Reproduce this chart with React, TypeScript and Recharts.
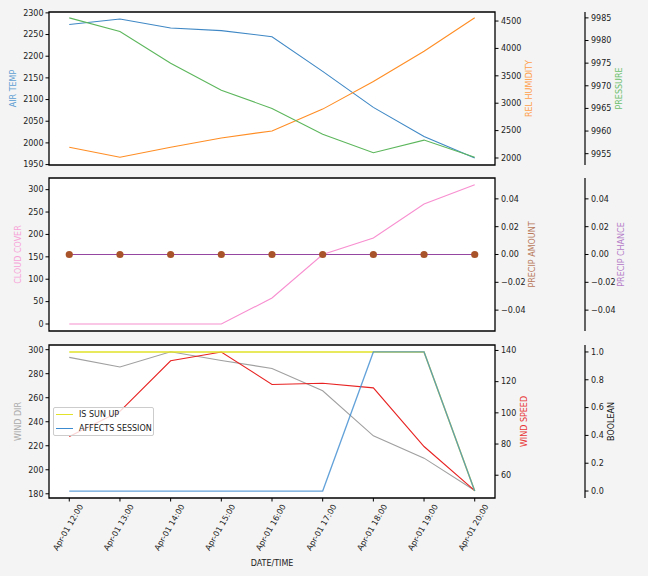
import React from 'react';
import { LineChart, Line, XAxis, YAxis, CartesianGrid, ReferenceArea, Legend } from 'recharts';

const times = ['Apr-01 12:00', 'Apr-01 13:00', 'Apr-01 14:00', 'Apr-01 15:00', 'Apr-01 16:00', 'Apr-01 17:00', 'Apr-01 18:00', 'Apr-01 19:00', 'Apr-01 20:00'];
const airTemp = [2273, 2286, 2265, 2259, 2245, 2165, 2082, 2015, 1965];
const relHumidity = [2196, 2013, 2196, 2366, 2494, 2892, 3397, 3947, 4559];
const pressure = [9985, 9982, 9975, 9969, 9965, 9959.3, 9955.2, 9958, 9954.2];
const cloudCover = [0, 0, 0, 0, 58, 155, 192, 268, 311];
const precipAmount = [0, 0, 0, 0, 0, 0, 0, 0, 0];
const precipChance = [0, 0, 0, 0, 0, 0, 0, 0, 0];
const windDir = [293.6, 285.6, 298.3, 291, 284.4, 265.8, 228.3, 209.7, 182.8];
const windSpeed = [84.8, 101, 133.4, 139, 118.2, 119, 116, 78.4, 50.1];
const isSunUp = [1, 1, 1, 1, 1, 1, 1, 1, 0];
const affectsSession = [0, 0, 0, 0, 0, 0, 1, 1, 0];

const airTempTicks = [1950, 2000, 2050, 2100, 2150, 2200, 2250, 2300];
const relHumTicks = [2000, 2500, 3000, 3500, 4000, 4500];
const pressureTicks = [9955, 9960, 9965, 9970, 9975, 9980, 9985];
const cloudTicks = [0, 50, 100, 150, 200, 250, 300];
const precipTicks = [-0.04, -0.02, 0, 0.02, 0.04];
const windDirTicks = [180, 200, 220, 240, 260, 280, 300];
const windSpeedTicks = [60, 80, 100, 120, 140];
const boolTicks = [0, 0.2, 0.4, 0.6, 0.8, 1.0];

const legendItems = [
  { label: 'IS SUN UP', color: '#e2e22a' },
  { label: 'AFFECTS SESSION', color: '#3c8bd0' },
];

const rows = times.map((t, i) => ({
  i,
  t,
  airTemp: airTemp[i],
  relHumidity: relHumidity[i],
  pressure: pressure[i],
  cloudCover: cloudCover[i],
  precipAmount: precipAmount[i],
  precipChance: precipChance[i],
  windDir: windDir[i],
  windSpeed: windSpeed[i],
  isSunUp: isSunUp[i],
  affectsSession: affectsSession[i],
}));

const FONT = '"DejaVu Sans", Verdana, sans-serif';
const XDOM: [number, number] = [-0.4, 8.4];
const XTICKS = times.map((_, i) => i);

const D1L: [number, number] = [1949, 2302];
const D1R: [number, number] = [1872, 4665];
const D1P: [number, number] = [9952.5, 9986.3];
const D2L: [number, number] = [-15.6, 326];
const D2R: [number, number] = [-0.055, 0.055];
const D3L: [number, number] = [176.5, 303.9];
const D3R: [number, number] = [45.4, 143.5];
const D3B: [number, number] = [-0.05, 1.05];

const tickStyle = { fontSize: 8, fill: '#222', fontFamily: FONT };
const tickLine = { stroke: '#000', strokeWidth: 1 };

const fmt = (d: number) => (v: any) => Number(v).toFixed(d).replace('-', '\u2212');

const makeLabel = (text: string, color: string, absX: number) => (props: any) => {
  const vb = props && props.viewBox ? props.viewBox : { y: 0, height: 153 };
  const cx = absX;
  const cy = vb.y + vb.height / 2;
  return (
    <text
      x={cx}
      y={cy}
      transform={`rotate(-90 ${cx} ${cy})`}
      textAnchor="middle"
      dominantBaseline="central"
      fill={color}
      fontSize={8}
      fontFamily={FONT}
    >
      {text}
    </text>
  );
};

const RotTick = (props: any) => {
  const { x, y, payload } = props;
  const px = x + 12;
  const py = y + 1.5;
  return (
    <text
      x={px}
      y={py}
      transform={`rotate(-60 ${px} ${py})`}
      textAnchor="end"
      dominantBaseline="central"
      fontSize={8}
      fontFamily={FONT}
      fill="#222"
    >
      {times[payload.value]}
    </text>
  );
};

const LegendBox = () => (
  <div
    style={{
      width: 101,
      height: 29,
      boxSizing: 'border-box',
      border: '1px solid #cccccc',
      borderRadius: 2,
      background: 'rgba(255,255,255,0.8)',
      fontFamily: FONT,
      fontSize: 8,
      color: '#222',
      position: 'relative',
    }}
  >
    {legendItems.map((it, k) => (
      <div
        key={k}
        style={{ position: 'absolute', left: 2, top: 0.5 + k * 13.7, height: 12, display: 'flex', alignItems: 'center', whiteSpace: 'nowrap' }}
      >
        <span style={{ display: 'inline-block', width: 17, height: 0, borderTop: `1.4px solid ${it.color}`, marginRight: 6 }} />
        <span>{it.label}</span>
      </div>
    ))}
  </div>
);

const common = { isAnimationActive: false, dot: false, type: 'linear' as const, strokeWidth: 1.1 };

export default function App() {
  return (
    <div style={{ position: 'absolute', left: 0, top: 0, width: 648, height: 576, background: '#f4f4f4', overflow: 'hidden' }}>
      {/* Panel 1 */}
      <div style={{ position: 'absolute', left: 0, top: 0 }}>
        <LineChart width={648} height={175} data={rows} margin={{ top: 12, right: 23, bottom: 0, left: 0 }}>
          <CartesianGrid yAxisId="l" horizontal={false} vertical={false} fill="#ffffff" />
          <XAxis dataKey="i" type="number" domain={XDOM} ticks={XTICKS} tick={false} tickLine={tickLine} tickSize={3.5} axisLine={false} height={10} allowDataOverflow />
          <YAxis yAxisId="l" orientation="left" width={49} domain={D1L} ticks={airTempTicks} interval={0} tick={tickStyle} tickLine={tickLine} tickSize={3.5} tickMargin={2} axisLine={false} allowDataOverflow label={makeLabel('AIR TEMP', '#5f9fd3', 13)} />
          <YAxis yAxisId="r1" orientation="right" width={90} domain={D1R} ticks={relHumTicks} interval={0} tick={tickStyle} tickLine={tickLine} tickSize={3.5} tickMargin={2.5} axisLine={false} allowDataOverflow label={makeLabel('REL HUMIDITY', '#ffa04a', 529)} />
          <YAxis yAxisId="r2" orientation="right" width={40} domain={D1P} ticks={pressureTicks} interval={0} tick={tickStyle} tickLine={tickLine} tickSize={3.5} tickMargin={2.5} axisLine={{ stroke: '#000', strokeWidth: 1.2 }} allowDataOverflow label={makeLabel('PRESSURE', '#6cc06c', 619)} />
          <Line {...common} yAxisId="l" dataKey="airTemp" stroke="#3f88c5" />
          <Line {...common} yAxisId="r1" dataKey="relHumidity" stroke="#ff8d24" />
          <Line {...common} yAxisId="r2" dataKey="pressure" stroke="#5cb65c" />
          <ReferenceArea yAxisId="l" x1={XDOM[0]} x2={XDOM[1]} y1={D1L[0]} y2={D1L[1]} fill="none" stroke="#000" strokeWidth={1.3} ifOverflow="visible" />
        </LineChart>
      </div>

      {/* Panel 2 */}
      <div style={{ position: 'absolute', left: 0, top: 170 }}>
        <LineChart width={648} height={171} data={rows} margin={{ top: 8, right: 23, bottom: 0, left: 0 }}>
          <CartesianGrid yAxisId="l" horizontal={false} vertical={false} fill="#ffffff" />
          <XAxis dataKey="i" type="number" domain={XDOM} ticks={XTICKS} tick={false} tickLine={tickLine} tickSize={3.5} axisLine={false} height={10} allowDataOverflow />
          <YAxis yAxisId="l" orientation="left" width={49} domain={D2L} ticks={cloudTicks} interval={0} tick={tickStyle} tickLine={tickLine} tickSize={3.5} tickMargin={2} axisLine={false} allowDataOverflow label={makeLabel('CLOUD COVER', '#f7a3d8', 18)} />
          <YAxis yAxisId="r1" orientation="right" width={90} domain={D2R} ticks={precipTicks} interval={0} tickFormatter={fmt(2)} tick={tickStyle} tickLine={tickLine} tickSize={3.5} tickMargin={2.5} axisLine={false} allowDataOverflow label={makeLabel('PRECIP AMOUNT', '#b8785a', 532)} />
          <YAxis yAxisId="r2" orientation="right" width={40} domain={D2R} ticks={precipTicks} interval={0} tickFormatter={fmt(2)} tick={tickStyle} tickLine={tickLine} tickSize={3.5} tickMargin={2.5} axisLine={{ stroke: '#000', strokeWidth: 1.2 }} allowDataOverflow label={makeLabel('PRECIP CHANCE', '#b47cc8', 621)} />
          <Line {...common} yAxisId="l" dataKey="cloudCover" stroke="#f88fd0" />
          <Line {...common} yAxisId="r2" dataKey="precipChance" stroke="#9546a0" />
          <Line {...common} yAxisId="r1" dataKey="precipAmount" stroke="none" dot={{ r: 3.6, fill: '#a9532a', stroke: 'none' }} />
          <ReferenceArea yAxisId="l" x1={XDOM[0]} x2={XDOM[1]} y1={D2L[0]} y2={D2L[1]} fill="none" stroke="#000" strokeWidth={1.3} ifOverflow="visible" />
        </LineChart>
      </div>

      {/* Panel 3 */}
      <div style={{ position: 'absolute', left: 0, top: 340 }}>
        <LineChart width={648} height={236} data={rows} margin={{ top: 5, right: 23, bottom: 0, left: 0 }}>
          <CartesianGrid yAxisId="l" horizontal={false} vertical={false} fill="#ffffff" />
          <XAxis
            dataKey="i"
            type="number"
            domain={XDOM}
            ticks={XTICKS}
            tick={<RotTick />}
            tickLine={tickLine}
            tickSize={3.5}
            tickMargin={2}
            axisLine={false}
            height={78}
            interval={0}
            allowDataOverflow
            label={(props: any) => {
              const vb = props && props.viewBox ? props.viewBox : { x: 49, width: 446 };
              return (
                <text x={vb.x + vb.width / 2} y={223} textAnchor="middle" dominantBaseline="central" fontSize={8} fontFamily={FONT} fill="#222">
                  DATE/TIME
                </text>
              );
            }}
          />
          <YAxis yAxisId="l" orientation="left" width={49} domain={D3L} ticks={windDirTicks} interval={0} tick={tickStyle} tickLine={tickLine} tickSize={3.5} tickMargin={2} axisLine={false} allowDataOverflow label={makeLabel('WIND DIR', '#aaaaaa', 18)} />
          <YAxis yAxisId="r1" orientation="right" width={90} domain={D3R} ticks={windSpeedTicks} interval={0} tick={tickStyle} tickLine={tickLine} tickSize={3.5} tickMargin={2.5} axisLine={false} allowDataOverflow label={makeLabel('WIND SPEED', '#e83434', 524)} />
          <YAxis yAxisId="r2" orientation="right" width={40} domain={D3B} ticks={boolTicks} interval={0} tickFormatter={fmt(1)} tick={tickStyle} tickLine={tickLine} tickSize={3.5} tickMargin={2.5} axisLine={{ stroke: '#000', strokeWidth: 1.2 }} allowDataOverflow label={makeLabel('BOOLEAN', '#111111', 611)} />
          <Line {...common} yAxisId="l" dataKey="windDir" stroke="#a0a0a0" />
          <Line {...common} yAxisId="r1" dataKey="windSpeed" stroke="#e82222" />
          <Line {...common} yAxisId="r2" dataKey="isSunUp" stroke="#e2e22a" strokeWidth={1.5} />
          <Line {...common} yAxisId="r2" dataKey="affectsSession" stroke="#3c8bd0" strokeOpacity={0.8} strokeWidth={1.3} />
          <ReferenceArea yAxisId="l" x1={XDOM[0]} x2={XDOM[1]} y1={D3L[0]} y2={D3L[1]} fill="none" stroke="#000" strokeWidth={1.3} ifOverflow="visible" />
          <Legend content={<LegendBox />} layout="vertical" align="center" verticalAlign="middle" wrapperStyle={{ left: 53, top: 67, width: 101, height: 29 }} />
        </LineChart>
      </div>
    </div>
  );
}
